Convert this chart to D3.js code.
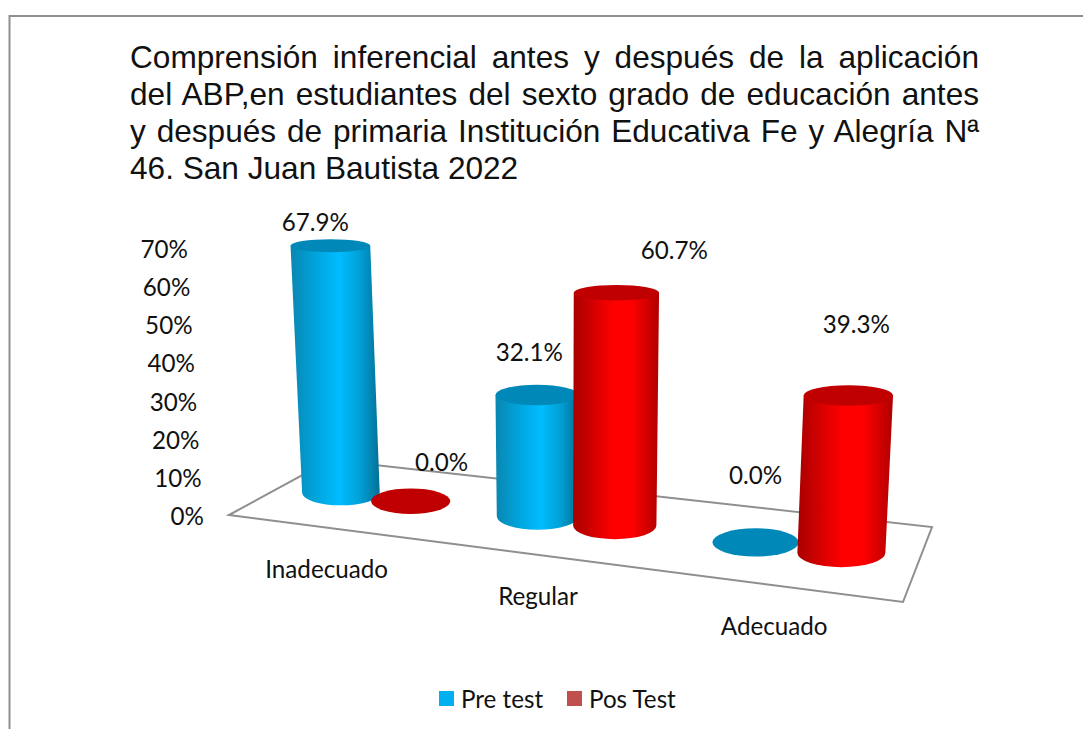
<!DOCTYPE html>
<html lang="es">
<head>
    <meta charset="UTF-8"/>
    <title>Comprensión inferencial</title>
    <script src="https://d3js.org/d3.v7.min.js"></script>
    <style>
        html, body { margin: 0; padding: 0; background: #fff; }
        svg { display: block; }
        .title { font-family: "Liberation Sans", Arial, sans-serif; font-size: 31.6px; fill: #111; }
        .lbl { font-family: Lato, "Open Sans", sans-serif; font-size: 24.2px; fill: #111; }
    </style>
</head>
<body>
    <div id="chart"></div>
    <script>
        var titleLines = [
            "Comprensión inferencial antes y después de la aplicación",
            "del ABP,en estudiantes del sexto grado de educación antes",
            "y después de primaria Institución Educativa Fe y Alegría Nª",
            "46. San Juan Bautista 2022"
        ];
        var categories = ["Inadecuado", "Regular", "Adecuado"];
        var seriesNames = ["Pre test", "Pos Test"];
        var preTest = [67.9, 32.1, 0.0];
        var posTest = [0.0, 60.7, 39.3];
        var yTicks = [0, 10, 20, 30, 40, 50, 60, 70];

        var w = 1083;
        var h = 729;

        // floor corners on screen: front left, front right, back right, back left
        var floor = [[229, 515], [903, 602], [932, 527], [330, 460]];

        // label nudges from the top of each cylinder, same order as the bars get drawn
        var labelNudge = [[-15, -15], [31, -30], [-7.5, -34], [58, -34], [0, -58], [8, -62]];

        var svg = d3.select("#chart").append("svg")
            .attr("width", w)
            .attr("height", h);

        var defs = svg.append("defs");

        function shade(id, stops) {
            var g = defs.append("linearGradient").attr("id", id);
            stops.forEach(function(s) {
                g.append("stop").attr("offset", s[0]).attr("stop-color", s[1]);
            });
        }
        shade("blueSide", [[0, "#0a86b0"], [0.28, "#00a4dc"], [0.55, "#00bcff"], [0.78, "#00a0d6"], [1, "#046f96"]]);
        shade("redSide", [[0, "#a80000"], [0.3, "#e00000"], [0.48, "#ff0000"], [0.68, "#ff0000"], [1, "#b00000"]]);

        // square to quad projection for the floor
        function makeProjection(q) {
            var x0 = q[0][0], y0 = q[0][1], x1 = q[1][0], y1 = q[1][1];
            var x2 = q[2][0], y2 = q[2][1], x3 = q[3][0], y3 = q[3][1];
            var dx1 = x1 - x2, dx2 = x3 - x2, sx = x0 - x1 + x2 - x3;
            var dy1 = y1 - y2, dy2 = y3 - y2, sy = y0 - y1 + y2 - y3;
            var den = dx1 * dy2 - dx2 * dy1;
            var g = (sx * dy2 - dx2 * sy) / den;
            var k = (dx1 * sy - sx * dy1) / den;
            var a = x1 - x0 + g * x1, b = x3 - x0 + k * x3;
            var d = y1 - y0 + g * y1, e = y3 - y0 + k * y3;
            return function(u, v) {
                var t = g * u + k * v + 1;
                return [(a * u + b * v + x0) / t, (d * u + e * v + y0) / t];
            };
        }
        var project = makeProjection(floor);

        var xCat = d3.scaleBand().domain(categories).range([0, 1]);
        var xSeries = d3.scalePoint().domain(seriesNames).range([0, xCat.bandwidth()]).padding(0.866);
        var depthMid = 0.5;

        // the value axis is drawn leaning, so both x and y come from scales
        var yAxisY = d3.scaleLinear().domain([0, 70]).range([517, 250]);
        var yAxisX = d3.scaleLinear().domain([0, 70]).range([204, 188]);

        // things that grow towards the right of the floor
        var pxPerUnit = d3.scaleLinear().domain([341, 842]).range([3.64, 4.0]);
        var leanPerUnit = d3.scaleLinear().domain([341, 842]).range([-0.155, 0.178]);
        var baseRx = d3.scaleLinear().domain([341, 842]).range([38.8, 44]);
        var baseRy = d3.scaleLinear().domain([341, 842]).range([12.5, 14.5]);
        var topRy = d3.scaleLinear().domain([245, 500]).range([6.5, 13]).clamp(true);

        // floor
        svg.append("path")
            .attr("d", d3.line()(floor) + "Z")
            .attr("fill", "#fff")
            .attr("stroke", "#8f8f8f")
            .attr("stroke-width", 2);

        // outer frame
        svg.append("path")
            .attr("d", "M9.5,729V16H1083")
            .attr("fill", "none")
            .attr("stroke", "#8f8f8f")
            .attr("stroke-width", 2);

        // one row per cylinder, back to front
        var bars = [];
        categories.forEach(function(c, i) {
            seriesNames.forEach(function(s, j) {
                var value = (j == 0 ? preTest : posTest)[i];
                var base = project(xCat(c) + xSeries(s), depthMid);
                var top = [
                    base[0] + leanPerUnit(base[0]) * value,
                    base[1] - pxPerUnit(base[0]) * value
                ];
                bars.push({ value: value, series: j, base: base, top: top });
            });
        });

        bars.forEach(function(d) {
            var rx = baseRx(d.base[0]);
            var ry = baseRy(d.base[0]);
            var tx = rx * (1 + 0.0004 * d.value);
            var ty = d.value > 0 ? topRy(d.top[1]) : ry;
            if (d.value > 0) {
                // side of the cylinder
                svg.append("path")
                    .attr("d", "M" + (d.top[0] - tx) + "," + d.top[1] +
                        "L" + (d.base[0] - rx) + "," + d.base[1] +
                        "A" + rx + "," + ry + " 0 0 0 " + (d.base[0] + rx) + "," + d.base[1] +
                        "L" + (d.top[0] + tx) + "," + d.top[1] + "Z")
                    .attr("fill", d.series == 0 ? "url(#blueSide)" : "url(#redSide)");
            }
            svg.append("ellipse")
                .attr("cx", d.top[0])
                .attr("cy", d.top[1])
                .attr("rx", tx)
                .attr("ry", ty)
                .attr("fill", d.series == 0 ? "#0088b8" : "#c00000");
        });

        // value labels
        svg.selectAll(".valueLabel")
            .data(bars)
            .enter()
            .append("text")
            .attr("class", "lbl valueLabel")
            .attr("text-anchor", "middle")
            .attr("x", function(d, i) { return d.top[0] + labelNudge[i][0]; })
            .attr("y", function(d, i) { return d.top[1] + labelNudge[i][1]; })
            .text(function(d) { return d.value.toFixed(1) + "%"; });

        // value axis
        svg.selectAll(".tick")
            .data(yTicks)
            .enter()
            .append("text")
            .attr("class", "lbl tick")
            .attr("text-anchor", "end")
            .attr("x", function(d) { return yAxisX(d); })
            .attr("y", function(d) { return yAxisY(d) + 8; })
            .text(function(d) { return d + "%"; });

        // category labels sit under the front edge of the floor
        svg.selectAll(".cat")
            .data(categories)
            .enter()
            .append("text")
            .attr("class", "lbl cat")
            .attr("text-anchor", "middle")
            .attr("x", function(d) { return project(xCat(d) + xCat.bandwidth() / 2, 0)[0]; })
            .attr("y", function(d) { return project(xCat(d) + xCat.bandwidth() / 2, 0)[1] + 50; })
            .text(function(d) { return d; });

        // title, first three lines justified
        var titleLeft = 130, titleRight = 979;
        titleLines.forEach(function(line, i) {
            var t = svg.append("text")
                .attr("class", "title")
                .attr("x", titleLeft)
                .attr("y", 67.5 + i * 37)
                .text(line);
            if (i < 3) {
                var gaps = line.split(" ").length - 1;
                var extra = (titleRight - titleLeft - t.node().getComputedTextLength()) / gaps;
                t.attr("word-spacing", extra);
            }
        });

        // legend
        var legendX = [439, 567];
        var legendFill = ["#00b0f0", "#c0504d"];
        seriesNames.forEach(function(s, i) {
            svg.append("rect")
                .attr("x", legendX[i])
                .attr("y", 691)
                .attr("width", 15)
                .attr("height", 15)
                .attr("fill", legendFill[i]);
            svg.append("text")
                .attr("class", "lbl")
                .attr("x", legendX[i] + 22)
                .attr("y", 708)
                .text(s);
        });
    </script>
</body>
</html>
